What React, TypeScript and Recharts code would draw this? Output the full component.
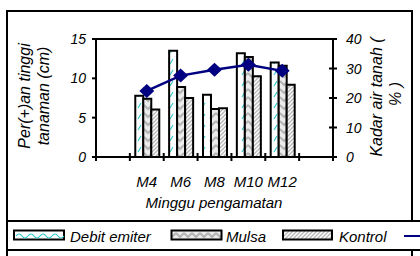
import React from 'react';
import { ComposedChart, Bar, Line, XAxis, YAxis, ReferenceLine, Label } from 'recharts';

const categories = ['', 'M4', 'M6', 'M8', 'M10', 'M12', ''];
const debitEmiter = [null, 7.8, 13.5, 7.9, 13.2, 12.0, null];
const mulsa = [null, 7.4, 8.9, 6.1, 12.7, 11.6, null];
const kontrol = [null, 6.05, 7.5, 6.2, 10.25, 9.2, null];
const kadarAir = [null, 22.4, 27.6, 29.6, 31.3, 29.2, null];
const leftTicks = [0, 5, 10, 15];
const rightTicks = [0, 10, 20, 30, 40];
const seriesNames = ['Debit emiter', 'Mulsa', 'Kontrol'];

const data = categories.map((c, i) => ({
  cat: c,
  debit: debitEmiter[i],
  mulsa: mulsa[i],
  kontrol: kontrol[i],
  kadar: kadarAir[i],
}));

const FONT = "'Liberation Sans', Arial, sans-serif";
const NAVY = '#000080';

const LeftTick = (props: any) => {
  const { x, y, payload } = props;
  return (
    <g>
      <line x1={x - 4} x2={x} y1={y} y2={y} stroke="#000" strokeWidth={2} />
      <text x={x - 10} y={y + 5} textAnchor="end" fontSize={14} fontStyle="italic" fontFamily={FONT} fill="#000">
        {payload.value}
      </text>
    </g>
  );
};

const RightTick = (props: any) => {
  const { x, y, payload } = props;
  return (
    <g>
      <line x1={x - 4} x2={x + 4} y1={y} y2={y} stroke="#000" strokeWidth={2} />
      <text x={x + 13} y={y + 5} textAnchor="start" fontSize={14} fontStyle="italic" fontFamily={FONT} fill="#000">
        {payload.value}
      </text>
    </g>
  );
};

const XTick = (props: any) => {
  const { x, y, payload, index, visibleTicksCount } = props;
  const off = payload && payload.offset ? payload.offset : 237 / 14;
  const last = index === (visibleTicksCount ?? categories.length) - 1;
  return (
    <g>
      <line x1={x - off} x2={x - off} y1={y - 4} y2={y + 4} stroke="#000" strokeWidth={2} />
      {last ? <line x1={x + off} x2={x + off} y1={y - 4} y2={y + 4} stroke="#000" strokeWidth={2} /> : null}
      <text x={x} y={y + 29.5} textAnchor="middle" fontSize={15} fontStyle="italic" fontFamily={FONT} fill="#000">
        {payload.value}
      </text>
    </g>
  );
};

const Diamond = (props: any) => {
  const { cx, cy, index } = props;
  if (cx == null || cy == null || isNaN(cx) || isNaN(cy)) return <g key={`d${index}`} />;
  return (
    <polygon
      key={`d${index}`}
      points={`${cx - 7.5},${cy} ${cx},${cy - 7} ${cx + 7.5},${cy} ${cx},${cy + 7}`}
      fill={NAVY}
    />
  );
};

const Patterns = ({ prefix }: { prefix: string }) => (
  <defs>
    <pattern id={`${prefix}Debit`} patternUnits="userSpaceOnUse" width="8" height="11">
      <rect width="8" height="11" fill="#fff" />
      <line x1="2" y1="9" x2="5" y2="4" stroke="#33cccc" strokeWidth="1.2" />
    </pattern>
    <pattern id={`${prefix}Mulsa`} patternUnits="userSpaceOnUse" width="8" height="8">
      <rect width="8" height="8" fill="#ececec" />
      <path d="M0,1 L4,5 L8,1" stroke="#b4b4b4" strokeWidth="2" fill="none" />
    </pattern>
    <pattern id={`${prefix}Kontrol`} patternUnits="userSpaceOnUse" width="4" height="4">
      <rect width="4" height="4" fill="#fff" />
      <path d="M-1,1 L1,-1 M0,4 L4,0 M3,5 L5,3" stroke="#b8b8b8" strokeWidth="1.4" />
    </pattern>
  </defs>
);

export default function App() {
  return (
    <div style={{ position: 'fixed', left: 0, top: 0, width: 420, height: 256, overflow: 'hidden', background: '#fff' }}>
      <svg width={420} height={256} style={{ position: 'absolute', left: 0, top: 0 }}>
        <Patterns prefix="lg" />
        <rect x={7} y={11} width={405} height={210} fill="none" stroke="#000" strokeWidth={2} />
        <line x1={7} y1={221} x2={420} y2={221} stroke="#000" strokeWidth={2} />
        <line x1={7} y1={250} x2={420} y2={250} stroke="#000" strokeWidth={2} />
        <line x1={7} y1={221} x2={7} y2={256} stroke="#000" strokeWidth={2} />
        <line x1={412} y1={250} x2={412} y2={256} stroke="#000" strokeWidth={2} />
        {/* legend */}
        <rect x={14} y={230.5} width={50} height={9} fill="#fff" stroke="#000" strokeWidth={2} />
        <path d="M16,236 q3,-4 6,0 t6,0 t6,0 t6,0 t6,0 t6,0 t6,0 t6,0" stroke="#33cccc" strokeWidth={1.2} fill="none" />
        <text x={70} y={242} fontSize={15} fontStyle="italic" fontFamily={FONT} fill="#000">{seriesNames[0]}</text>
        <rect x={171.5} y={230.5} width={50} height={9} fill="url(#lgMulsa)" stroke="#000" strokeWidth={2} />
        <text x={226} y={242} fontSize={15} fontStyle="italic" fontFamily={FONT} fill="#000">{seriesNames[1]}</text>
        <rect x={283} y={230.5} width={49} height={9} fill="url(#lgKontrol)" stroke="#000" strokeWidth={2} />
        <text x={339} y={242} fontSize={15} fontStyle="italic" fontFamily={FONT} fill="#000">{seriesNames[2]}</text>
        <line x1={404} y1={236} x2={440} y2={236} stroke={NAVY} strokeWidth={2} />
      </svg>
      <div style={{ position: 'absolute', left: 0, top: 0 }}>
        <ComposedChart
          width={420}
          height={256}
          data={data}
          margin={{ top: 39, right: 0, bottom: 39, left: 0 }}
          barGap={0}
          barCategoryGap="16%"
        >
          <Patterns prefix="ch" />
          <XAxis
            dataKey="cat"
            height={60}
            tickLine={false}
            tickSize={0}
            tickMargin={0}
            axisLine={{ stroke: '#000', strokeWidth: 2 }}
            tick={<XTick />}
            interval={0}
          >
            <Label
              content={() => (
                <text x={214} y={207.5} textAnchor="middle" fontSize={15} fontStyle="italic" fontFamily={FONT} fill="#000">
                  Minggu pengamatan
                </text>
              )}
            />
          </XAxis>
          <YAxis
            yAxisId="left"
            orientation="left"
            width={96}
            domain={[0, 15]}
            ticks={leftTicks}
            interval={0}
            tickLine={false}
            tickSize={0}
            tickMargin={0}
            axisLine={{ stroke: '#000', strokeWidth: 2 }}
            tick={<LeftTick />}
          >
            <Label
              content={() => (
                <text transform="translate(29.5,96) rotate(-90)" textAnchor="middle" fontSize={16} fontStyle="italic" fontFamily={FONT} fill="#000">
                  <tspan x={0} y={0}>Per(+)an tinggi</tspan>
                  <tspan x={0} y={19.5}>tanaman (cm)</tspan>
                </text>
              )}
            />
          </YAxis>
          <YAxis
            yAxisId="right"
            orientation="right"
            width={87}
            domain={[0, 40]}
            ticks={rightTicks}
            interval={0}
            tickLine={false}
            tickSize={0}
            tickMargin={0}
            axisLine={{ stroke: '#000', strokeWidth: 2 }}
            tick={<RightTick />}
          >
            <Label
              content={() => (
                <text transform="translate(381.5,97) rotate(-90)" textAnchor="middle" fontSize={16} fontStyle="italic" fontFamily={FONT} fill="#000">
                  <tspan x={0} y={0}>Kadar air tanah (</tspan>
                  <tspan x={3} y={19.5}>% )</tspan>
                </text>
              )}
            />
          </YAxis>
          <ReferenceLine yAxisId="left" y={15} stroke="#000" strokeWidth={2} />
          <Bar yAxisId="left" dataKey="debit" name={seriesNames[0]} fill="url(#chDebit)" stroke="#000" strokeWidth={2} isAnimationActive={false} />
          <Bar yAxisId="left" dataKey="mulsa" name={seriesNames[1]} fill="url(#chMulsa)" stroke="#000" strokeWidth={2} isAnimationActive={false} />
          <Bar yAxisId="left" dataKey="kontrol" name={seriesNames[2]} fill="url(#chKontrol)" stroke="#000" strokeWidth={2} isAnimationActive={false} />
          <Line
            yAxisId="right"
            dataKey="kadar"
            stroke={NAVY}
            strokeWidth={2.5}
            dot={<Diamond />}
            activeDot={false}
            isAnimationActive={false}
          />
        </ComposedChart>
      </div>
    </div>
  );
}
